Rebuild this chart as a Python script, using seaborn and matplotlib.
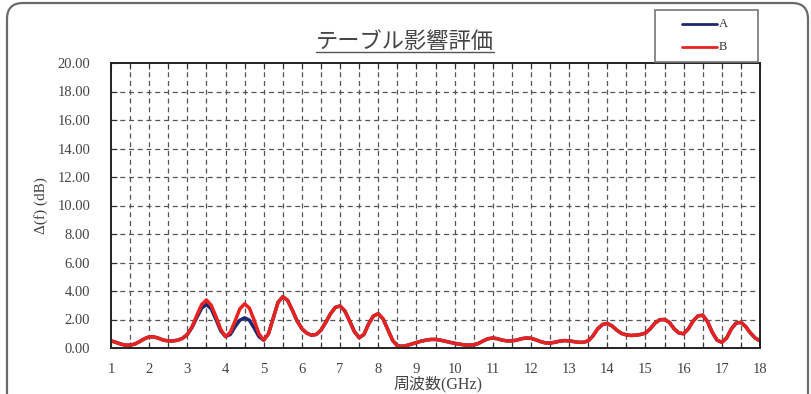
import numpy as np
import pandas as pd
import matplotlib
matplotlib.use("Agg")
import matplotlib.pyplot as plt
import matplotlib.transforms as mtransforms
from matplotlib.patches import FancyBboxPatch, Rectangle
from matplotlib.lines import Line2D
from matplotlib.ticker import MultipleLocator, FormatStrFormatter
import seaborn as sns

# ---------------- data ----------------
title = "テーブル影響評価"
x_label = "周波数(GHz)"
y_label = "Δ(f) (dB)"
series_names = ["A", "B"]
series_colors = ["#1c2873", "#e8231f"]

freq_ghz = np.linspace(1.0, 18.0, 137)  # 0.125 GHz sweep

b_values = [
    0.50, 0.40, 0.28, 0.20, 0.20, 0.28, 0.45, 0.65,   # 1.0 - 1.875
    0.78, 0.78, 0.68, 0.55, 0.50, 0.50, 0.55, 0.68,   # 2.0 - 2.875
    0.95, 1.50, 2.30, 3.05, 3.37, 3.00, 2.20, 1.30,   # 3.0 - 3.875
    0.80, 1.10, 1.90, 2.75, 3.10, 2.80, 1.95, 1.00,   # 4.0 - 4.875
    0.55, 1.00, 2.10, 3.20, 3.60, 3.35, 2.65, 1.90,   # 5.0 - 5.875
    1.35, 1.05, 0.90, 0.95, 1.25, 1.80, 2.40, 2.85,   # 6.0 - 6.875
    2.95, 2.60, 1.90, 1.15, 0.72, 0.95, 1.70, 2.25,   # 7.0 - 7.875
    2.40, 2.05, 1.30, 0.55, 0.15, 0.12, 0.18, 0.28,   # 8.0 - 8.875
    0.38, 0.48, 0.55, 0.60, 0.60, 0.55, 0.48, 0.40,   # 9.0 - 9.875
    0.33, 0.27, 0.22, 0.20, 0.22, 0.32, 0.50, 0.65,   # 10.0 - 10.875
    0.70, 0.65, 0.55, 0.50, 0.50, 0.55, 0.65, 0.70,   # 11.0 - 11.875
    0.68, 0.58, 0.45, 0.36, 0.35, 0.40, 0.48, 0.52,   # 12.0 - 12.875
    0.50, 0.45, 0.40, 0.40, 0.50, 0.85, 1.35, 1.65,   # 13.0 - 13.875
    1.72, 1.55, 1.25, 1.02, 0.92, 0.88, 0.90, 0.95,   # 14.0 - 14.875
    1.05, 1.35, 1.75, 1.98, 2.00, 1.80, 1.35, 1.05,   # 15.0 - 15.875
    1.00, 1.35, 1.90, 2.25, 2.30, 1.85, 1.10, 0.55,   # 16.0 - 16.875
    0.40, 0.70, 1.35, 1.75, 1.80, 1.50, 1.05, 0.70,   # 17.0 - 17.875
    0.50,                                             # 18.0
]

a_values = [
    0.50, 0.40, 0.28, 0.20, 0.20, 0.28, 0.45, 0.65,   # 1.0 - 1.875
    0.78, 0.78, 0.68, 0.55, 0.50, 0.50, 0.55, 0.68,   # 2.0 - 2.875
    0.95, 1.45, 2.15, 2.80, 3.05, 2.75, 2.00, 1.20,   # 3.0 - 3.875
    0.80, 0.95, 1.50, 1.95, 2.12, 1.95, 1.40, 0.80,   # 4.0 - 4.875
    0.55, 1.00, 2.10, 3.20, 3.60, 3.35, 2.65, 1.90,   # 5.0 - 5.875
    1.35, 1.05, 0.90, 0.95, 1.25, 1.80, 2.40, 2.85,   # 6.0 - 6.875
    2.95, 2.60, 1.90, 1.15, 0.72, 0.95, 1.70, 2.25,   # 7.0 - 7.875
    2.40, 2.05, 1.30, 0.55, 0.15, 0.12, 0.18, 0.28,   # 8.0 - 8.875
    0.38, 0.48, 0.55, 0.60, 0.60, 0.55, 0.48, 0.40,   # 9.0 - 9.875
    0.33, 0.27, 0.22, 0.20, 0.22, 0.32, 0.50, 0.65,   # 10.0 - 10.875
    0.70, 0.65, 0.55, 0.50, 0.50, 0.55, 0.65, 0.70,   # 11.0 - 11.875
    0.68, 0.58, 0.45, 0.36, 0.35, 0.40, 0.48, 0.52,   # 12.0 - 12.875
    0.50, 0.45, 0.40, 0.40, 0.50, 0.85, 1.35, 1.65,   # 13.0 - 13.875
    1.72, 1.55, 1.25, 1.02, 0.92, 0.88, 0.90, 0.95,   # 14.0 - 14.875
    1.05, 1.35, 1.75, 1.98, 2.00, 1.80, 1.35, 1.05,   # 15.0 - 15.875
    1.00, 1.35, 1.90, 2.25, 2.30, 1.85, 1.10, 0.55,   # 16.0 - 16.875
    0.40, 0.70, 1.35, 1.75, 1.80, 1.50, 1.05, 0.70,   # 17.0 - 17.875
    0.50,                                             # 18.0
]

x_ticks = list(range(1, 19))
y_ticks = [0, 2, 4, 6, 8, 10, 12, 14, 16, 18, 20]

# ---------------- style ----------------
sns.set_theme(style="white")
serif_jp = ["Liberation Serif", "Noto Sans CJK JP", "DejaVu Sans"]
plt.rcParams["font.family"] = serif_jp
plt.rcParams["axes.unicode_minus"] = False

df = pd.DataFrame({
    "freq": np.concatenate([freq_ghz, freq_ghz]),
    "val": np.concatenate([a_values, b_values]),
    "series": ["A"] * len(a_values) + ["B"] * len(b_values),
})

W, H = 811, 394
fig = plt.figure(figsize=(W / 100, H / 100), dpi=100)
ax = fig.add_axes([111 / W, 1 - 348 / H, (760 - 111) / W, (348 - 63) / H])

sns.lineplot(data=df, x="freq", y="val", hue="series",
             palette=dict(zip(series_names, series_colors)),
             linewidth=2.5, ax=ax, legend=False, sort=False)

ax.set_xlim(1, 18)
ax.set_ylim(0, 20)
ax.set_xticks(x_ticks)
ax.set_yticks(y_ticks)
ax.xaxis.set_minor_locator(MultipleLocator(0.5))
ax.yaxis.set_major_formatter(FormatStrFormatter("%.2f"))
ax.tick_params(axis="both", which="both", direction="in", labelsize=10.5,
               colors="#333333", labelcolor="#444444")
ax.tick_params(axis="x", which="both", top=True, bottom=True, length=4, width=0.8)
ax.tick_params(axis="y", which="both", left=True, length=4, width=0.8)
ax.tick_params(axis="x", which="major", pad=11)
ax.tick_params(axis="y", which="major", pad=15)

for xv in np.arange(1.5, 18.0, 0.5):
    ax.axvline(xv, color="#555555", linestyle=(0, (4, 3)), linewidth=0.9, zorder=0)
for yv in y_ticks[1:-1]:
    ax.axhline(yv, color="#555555", linestyle=(0, (4, 3)), linewidth=0.9, zorder=0)

for sp in ax.spines.values():
    sp.set_visible(True)
    sp.set_color("#222222")
    sp.set_linewidth(1.4)

ax.set_xlabel("")
ax.set_ylabel(y_label, fontsize=11, color="#444444", labelpad=7)
fig.text(438 / W, 1 - 384 / H, x_label, ha="center", va="center",
         fontsize=11.5, color="#444444")

# title with underline
t = fig.text(405 / W, 1 - 41 / H, title, ha="center", va="center",
             fontsize=16, color="#444444", family=["Noto Sans CJK JP"])
fig.canvas.draw()
bb = t.get_window_extent()
fig.add_artist(Line2D([bb.x0 / W, bb.x1 / W], [1 - 52 / H, 1 - 52 / H],
                      color="#555555", linewidth=1.0, transform=fig.transFigure))

# legend (drawn as a boxed key, pixel layout)
px = mtransforms.IdentityTransform()
fig.patches.append(Rectangle((655, H - 62), 103, 52, transform=px,
                             facecolor="white", edgecolor="#777777",
                             linewidth=1.2, zorder=5))
for name, color, yrow in zip(series_names, series_colors, [24, 47]):
    fig.add_artist(Line2D([682, 717], [H - yrow, H - yrow], color=color,
                          linewidth=2.0, transform=px, zorder=6))
    fig.text(719 / W, 1 - yrow / H, name, ha="left", va="center",
             fontsize=9, color="#333333", zorder=6)

# outer rounded frame (open at the bottom edge of the picture)
frame = FancyBboxPatch((7, -30), 801, H - 3 + 30,
                       boxstyle="round,pad=0,rounding_size=16",
                       transform=px, facecolor="none",
                       edgecolor="#6a6a6a", linewidth=1.6)
fig.patches.append(frame)

fig.savefig("out.png", dpi=100)
